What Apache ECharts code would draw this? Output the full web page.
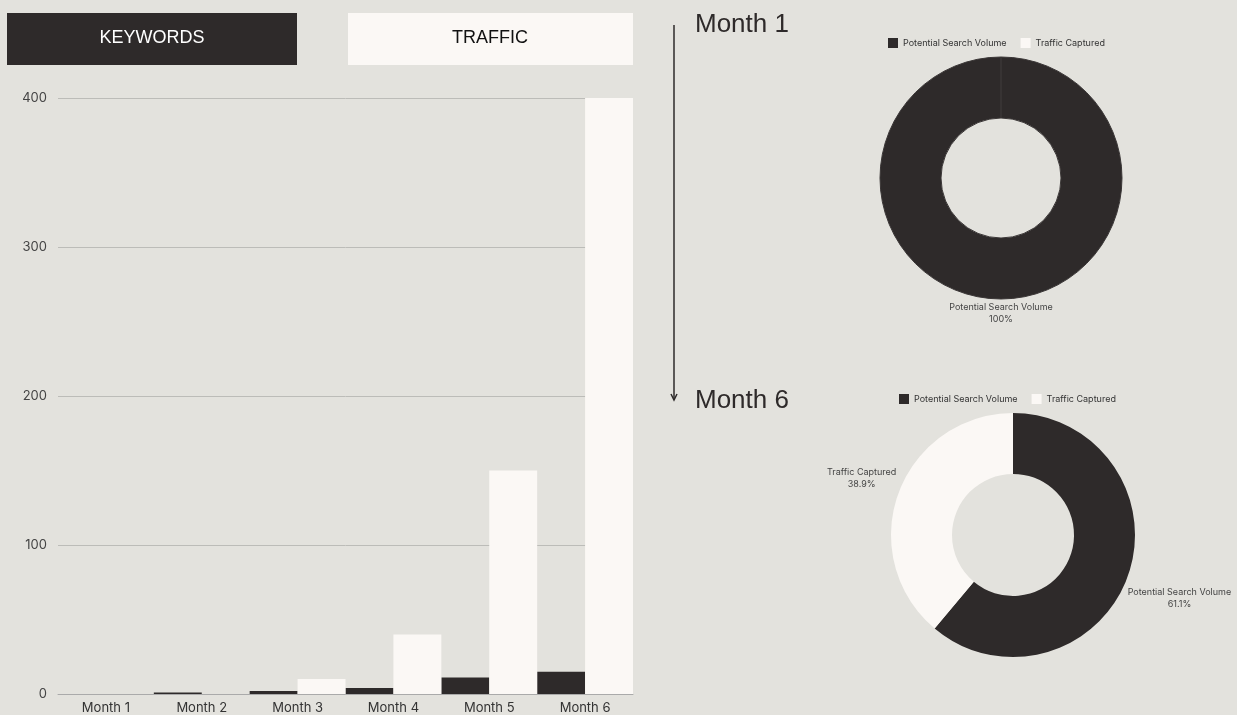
<!DOCTYPE html>
<html>
<head>
<meta charset="utf-8">
<script src="https://cdn.jsdelivr.net/npm/echarts@6/dist/echarts.min.js"></script>
<style>
  html, body { margin: 0; padding: 0; background: #e3e2dd; }
  #chart { width: 1237px; height: 715px; }
</style>
</head>
<body>
<div id="chart"></div>
<script>
const months = ['Month 1', 'Month 2', 'Month 3', 'Month 4', 'Month 5', 'Month 6']
const keywords = [0, 1, 2, 4, 11, 15]
const traffic = [0, 0, 10, 40, 150, 400]
const yTicks = [0, 100, 200, 300, 400]

const pieNames = ['Potential Search Volume', 'Traffic Captured']
const month1Share = [100, 0]
const month6Share = [61.1, 38.9]

const dark = '#2e2a2a'
const light = '#fbf8f5'
const font = 'Inter, "Noto Sans", sans-serif'

const chart = echarts.init(document.getElementById('chart'))

function pieData(values) {
  return values.map((v, i) => ({
    name: pieNames[i],
    value: v,
    itemStyle: { color: i === 0 ? dark : light },
    label: { show: v > 0 }
  }))
}

function pieSeries(center, radius, values, labelLayout) {
  return {
    type: 'pie',
    center: center,
    radius: radius,
    startAngle: 90,
    clockwise: true,
    stillShowZeroSum: true,
    silent: true,
    label: {
      position: 'outside',
      formatter: '{b}\n{d}%',
      fontFamily: font,
      fontSize: 9,
      lineHeight: 12,
      color: '#444',
      overflow: 'none'
    },
    labelLine: { show: false, length: 0, length2: 0 },
    labelLayout: labelLayout,
    data: pieData(values)
  }
}

const legendBase = {
  data: pieNames,
  icon: 'rect',
  itemWidth: 10,
  itemHeight: 10,
  itemGap: 14,
  itemStyle: { borderWidth: 0 },
  textStyle: { fontSize: 9, color: '#333', fontFamily: font },
  selectedMode: false
}

// 更新图表配置项
const month1 = pieSeries([1001, 178], [60, 121], month1Share, function (p) {
  return {
    x: p.rect.x + p.rect.width / 2,
    y: p.rect.y + p.rect.height + 14,
    align: 'center',
    verticalAlign: 'middle'
  }
})
month1.itemStyle = { borderColor: '#3b3737', borderWidth: 1 }

// labels centred on their block, nudged off the ring like the source
const month6 = pieSeries([1013, 535], [61, 122], month6Share, function (p) {
  const dx = p.dataIndex === 0 ? -5 : 3
  const dy = p.dataIndex === 0 ? 22 : -15
  return {
    x: p.labelRect.x + p.labelRect.width / 2 + dx,
    y: p.labelRect.y + p.labelRect.height / 2 + dy,
    align: 'center',
    verticalAlign: 'middle'
  }
})

const option = {
  backgroundColor: '#e3e2dd',
  animation: false,
  textStyle: { fontFamily: font },
  grid: { left: 58, right: 604, top: 98, bottom: 20 },
  xAxis: {
    type: 'category',
    data: months,
    axisLine: { lineStyle: { color: '#aaa' } },
    axisTick: { show: false },
    axisLabel: { color: '#333', fontSize: 13, margin: 8, fontFamily: font }
  },
  yAxis: {
    type: 'value',
    min: yTicks[0],
    max: yTicks[yTicks.length - 1],
    interval: 100,
    axisLabel: { color: '#444', fontSize: 13, margin: 11, fontFamily: font },
    splitLine: { lineStyle: { color: '#bcbcb8' } }
  },
  legend: [
    Object.assign({}, legendBase, { left: 883, top: 33 }),
    Object.assign({}, legendBase, { left: 894, top: 389 })
  ],
  series: [
    {
      name: 'Keywords',
      type: 'bar',
      data: keywords,
      barGap: 0,
      barCategoryGap: 0,
      itemStyle: { color: dark }
    },
    {
      name: 'Traffic',
      type: 'bar',
      data: traffic,
      itemStyle: { color: light }
    },
    month1,
    month6
  ],
  graphic: [
    { type: 'rect', shape: { x: 7, y: 13, width: 290, height: 52 }, style: { fill: dark } },
    {
      type: 'text', x: 152, y: 38,
      style: { text: 'KEYWORDS', fill: '#fff', font: '18px "Liberation Sans", Arial, sans-serif', textAlign: 'center', textVerticalAlign: 'middle' }
    },
    { type: 'rect', shape: { x: 348, y: 13, width: 285, height: 52 }, style: { fill: light } },
    {
      type: 'text', x: 490, y: 38,
      style: { text: 'TRAFFIC', fill: '#111', font: '18px "Liberation Sans", Arial, sans-serif', textAlign: 'center', textVerticalAlign: 'middle' }
    },
    { type: 'line', shape: { x1: 674, y1: 25, x2: 674, y2: 400 }, style: { stroke: dark, lineWidth: 1.5 } },
    { type: 'polyline', shape: { points: [[671, 394], [674, 400], [677, 394]] }, style: { stroke: dark, lineWidth: 1.5, fill: null } },
    {
      type: 'text', x: 695, y: 25,
      style: { text: 'Month 1', fill: dark, font: '26px "Liberation Sans", Arial, sans-serif', textVerticalAlign: 'middle' }
    },
    {
      type: 'text', x: 695, y: 401,
      style: { text: 'Month 6', fill: dark, font: '26px "Liberation Sans", Arial, sans-serif', textVerticalAlign: 'middle' }
    }
  ]
}

chart.setOption(option)
</script>
</body>
</html>
